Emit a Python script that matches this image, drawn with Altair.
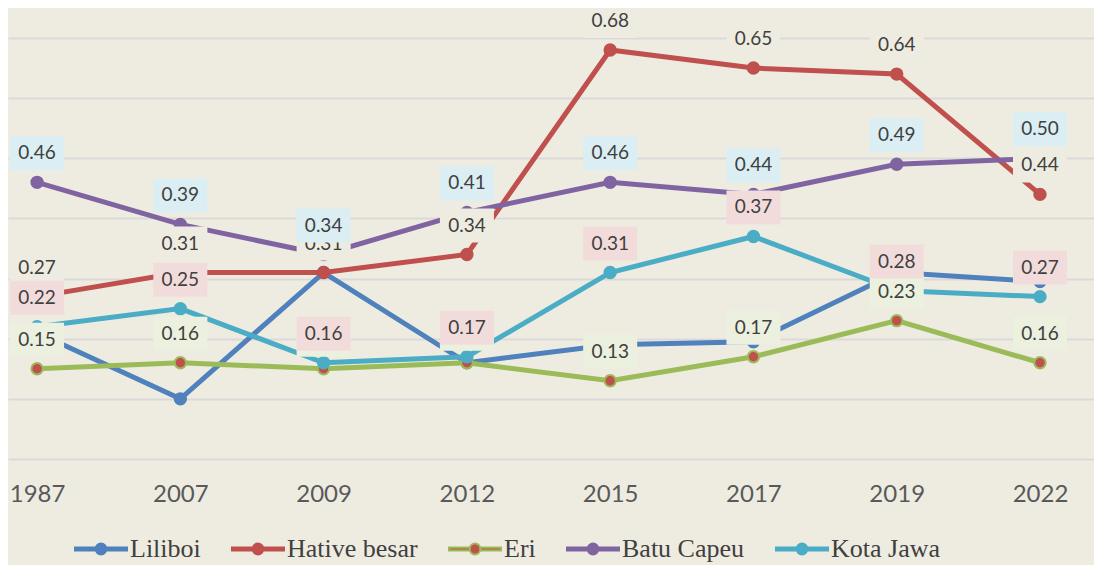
import altair as alt
import pandas as pd

years = ["1987", "2007", "2009", "2012", "2015", "2017", "2019", "2022"]
series_names = ["Liliboi", "Hative besar", "Eri", "Batu Capeu", "Kota Jawa"]
liliboi = [0.21, 0.10, 0.31, 0.16, 0.19, 0.195, 0.31, 0.295]
hative = [0.27, 0.31, 0.31, 0.34, 0.68, 0.65, 0.64, 0.44]
eri = [0.15, 0.16, 0.15, 0.16, 0.13, 0.17, 0.23, 0.16]
batu = [0.46, 0.39, 0.34, 0.41, 0.46, 0.44, 0.49, 0.50]
kota = [0.22, 0.25, 0.16, 0.17, 0.31, 0.37, 0.28, 0.27]

line_colors = ["#4F81BD", "#C0504D", "#9BBB59", "#8064A2", "#4BACC6"]
marker_fills = ["#4F81BD", "#C0504D", "#C0504D", "#8064A2", "#4BACC6"]
labelled = ["Hative besar", "Eri", "Batu Capeu", "Kota Jawa"]
label_box_colors = ["#EEECE1", "#EBF1DE", "#DBEEF3", "#F2DCDB"]

BG = "#EEECE1"

values = [liliboi, hative, eri, batu, kota]
rows = []
for s, vals in zip(series_names, values):
    for y, v in zip(years, vals):
        rows.append({"series": s, "year": y, "value": v})
df = pd.DataFrame(rows)

x_enc = alt.X(
    "year:O",
    sort=years,
    scale=alt.Scale(type="point", padding=0.29, align=0.35),
    axis=alt.Axis(
        title=None, labelAngle=0, ticks=False, tickSize=0, domain=False,
        labelFont="Lato", labelFontSize=24, labelColor="#595959", labelPadding=23,
        grid=False,
    ),
)
y_enc = alt.Y(
    "value:Q",
    scale=alt.Scale(domain=[0, 0.7], nice=False, zero=True),
    axis=alt.Axis(
        title=None, labels=False, ticks=False, domain=False,
        values=[0, 0.1, 0.2, 0.3, 0.4, 0.5, 0.6, 0.7],
        grid=True, gridColor="#D9D9D9", gridWidth=2,
    ),
)

legend = alt.Legend(title=None, orient="none", legendX=66, legendY=484, direction="horizontal")
stroke_scale = alt.Scale(domain=series_names, range=line_colors)
fill_scale = alt.Scale(domain=series_names, range=marker_fills)

base = alt.Chart(df)

layers = []
for s in series_names:
    sub = base.transform_filter(alt.datum.series == s)
    layers.append(
        sub.mark_line(strokeWidth=5).encode(
            x=x_enc, y=y_enc,
            stroke=alt.Stroke("series:N", scale=stroke_scale, legend=legend),
        )
    )
    layers.append(
        sub.mark_point(filled=True, size=130, strokeWidth=2, opacity=1).encode(
            x=x_enc, y=y_enc,
            fill=alt.Fill("series:N", scale=fill_scale, legend=legend),
            stroke=alt.Stroke("series:N", scale=stroke_scale, legend=legend),
        )
    )

box_path = "M-1,-0.63L1,-0.63L1,0.63L-1,0.63Z"
for s, bc in zip(labelled, label_box_colors):
    sub = base.transform_filter(alt.datum.series == s)
    layers.append(
        sub.mark_point(shape=box_path, size=2916, filled=True, fill=bc,
                       opacity=1, strokeWidth=0, yOffset=-29).encode(x=x_enc, y=y_enc)
    )
    layers.append(
        sub.mark_text(dy=-29, font="Lato", fontSize=19, color="#404040",
                      baseline="middle", align="center").encode(
            x=x_enc, y=y_enc, text=alt.Text("value:Q", format=".2f")
        )
    )

legend_symbol = (
    "M-1,-0.058L-0.2,-0.058L-0.2,0.058L-1,0.058Z"
    "M0.2,-0.058L1,-0.058L1,0.058L0.2,0.058Z"
    "M0.21,0A0.21,0.21 0 1,1 -0.21,0A0.21,0.21 0 1,1 0.21,0Z"
)

chart = (
    alt.layer(*layers)
    .properties(
        width=1086, height=421,
        autosize=alt.AutoSizeParams(type="none"),
        padding={"left": 0, "top": 30, "right": 0, "bottom": 106},
        background=BG,
    )
    .configure_view(stroke=None, fill=BG)
    .configure_legend(
        symbolType=legend_symbol, symbolSize=2704, symbolStrokeWidth=2,
        symbolOpacity=1, labelFont="Liberation Serif", labelFontSize=26,
        labelColor="#404040", labelOffset=2, columnPadding=27, padding=0,
        symbolOffset=0, labelLimit=300,
    )
)

chart.save("out.html", embed_options={"renderer": "svg", "actions": False})
